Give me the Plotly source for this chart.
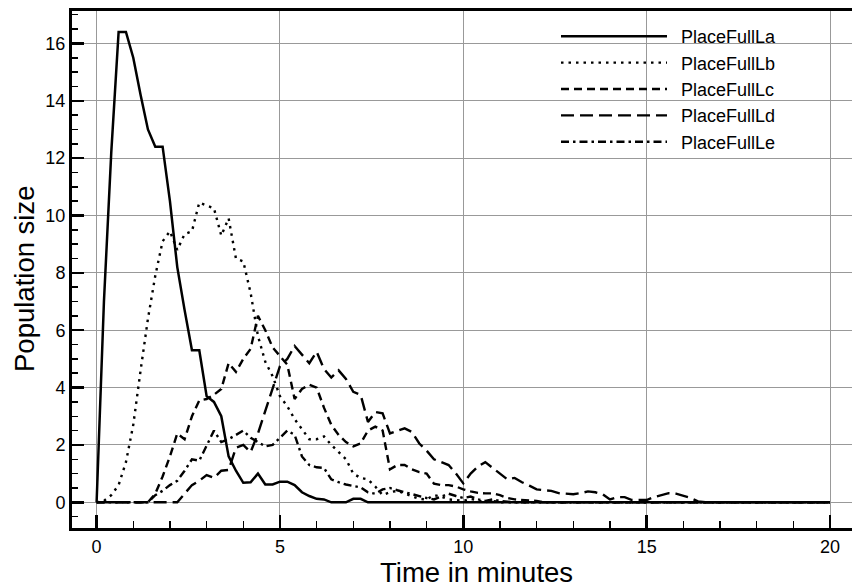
import plotly.graph_objects as go

time = [0.0, 0.2, 0.4, 0.6, 0.8, 1.0, 1.2, 1.4, 1.6, 1.8,
        2.0, 2.2, 2.4, 2.6, 2.8, 3.0, 3.2, 3.4, 3.6, 3.8,
        4.0, 4.2, 4.4, 4.6, 4.8, 5.0, 5.2, 5.4, 5.6, 5.8,
        6.0, 6.2, 6.4, 6.6, 6.8, 7.0, 7.2, 7.4, 7.6, 7.8,
        8.0, 8.2, 8.4, 8.6, 8.8, 9.0, 9.2, 9.4, 9.6, 9.8,
        10.0, 10.2, 10.4, 10.6, 10.8, 11.0, 11.2, 11.4, 11.6, 11.8,
        12.0, 12.2, 12.4, 12.6, 12.8, 13.0, 13.2, 13.4, 13.6, 13.8,
        14.0, 14.2, 14.4, 14.6, 14.8, 15.0, 15.2, 15.4, 15.6, 15.8,
        16.0, 16.2, 16.4, 16.6, 16.8, 17.0, 17.2, 17.4, 17.6, 17.8,
        18.0, 18.2, 18.4, 18.6, 18.8, 19.0, 19.2, 19.4, 19.6, 19.8,
        20.0]

place_full_la = [0, 7.0, 12.2, 16.4, 16.4, 15.5, 14.2, 13.0, 12.4, 12.4,
                 10.5, 8.2, 6.7, 5.3, 5.3, 3.7, 3.5, 3.0, 1.6, 1.1,
                 0.68, 0.7, 1.0, 0.62, 0.62, 0.72, 0.72, 0.6, 0.35, 0.22,
                 0.12, 0.1, 0, 0, 0, 0.12, 0.12, 0, 0, 0,
                 0, 0, 0, 0, 0, 0, 0, 0, 0, 0,
                 0, 0, 0, 0, 0, 0, 0, 0, 0, 0,
                 0, 0, 0, 0, 0, 0, 0, 0, 0, 0,
                 0, 0, 0, 0, 0, 0, 0, 0, 0, 0,
                 0, 0, 0, 0, 0, 0, 0, 0, 0, 0,
                 0, 0, 0, 0, 0, 0, 0, 0, 0, 0,
                 0]

place_full_lb = [0, 0.05, 0.25, 0.6, 1.4, 2.7, 4.6, 6.4, 7.9, 9.1,
                 9.45, 8.8, 9.35, 9.45, 10.45, 10.35, 10.25, 9.3, 9.9, 8.5,
                 8.4, 7.3, 5.8, 4.9, 4.4, 3.7, 3.35, 2.9, 2.55, 2.2,
                 2.2, 2.3, 2.0, 1.75, 1.5, 1.0, 0.85, 0.8, 0.55, 0.25,
                 0.35, 0.4, 0.3, 0.2, 0.12, 0.1, 0.25, 0.2, 0.1, 0.08,
                 0.05, 0.12, 0.05, 0, 0.05, 0, 0, 0, 0, 0,
                 0, 0, 0, 0, 0, 0, 0, 0, 0, 0,
                 0, 0, 0, 0, 0, 0, 0, 0, 0, 0,
                 0, 0, 0, 0, 0, 0, 0, 0, 0, 0,
                 0, 0, 0, 0, 0, 0, 0, 0, 0, 0,
                 0]

place_full_lc = [0, 0, 0, 0, 0, 0, 0, 0, 0.3, 0.9,
                 1.6, 2.4, 2.2, 3.0, 3.55, 3.6, 3.75, 3.95, 4.85, 4.55,
                 5.0, 5.35, 6.5, 6.0, 5.4, 5.1, 4.8, 3.6, 3.95, 4.1,
                 4.0, 3.3, 2.7, 2.35, 2.1, 1.95, 2.05, 2.5, 2.64, 2.5,
                 1.15, 1.3, 1.3, 1.15, 1.05, 1.0, 0.65, 0.6, 0.6, 0.55,
                 0.45, 0.38, 0.33, 0.31, 0.31, 0.25, 0.15, 0.1, 0.08, 0.05,
                 0.05, 0, 0, 0, 0, 0, 0, 0, 0, 0,
                 0, 0, 0, 0, 0, 0, 0, 0, 0, 0,
                 0, 0, 0, 0, 0, 0, 0, 0, 0, 0,
                 0, 0, 0, 0, 0, 0, 0, 0, 0, 0,
                 0]

place_full_ld = [0, 0, 0, 0, 0, 0, 0, 0, 0, 0,
                 0, 0, 0.3, 0.6, 0.75, 0.95, 0.85, 1.1, 1.13, 1.9,
                 2.0, 1.75, 2.4, 3.2, 4.0, 4.75, 5.0, 5.45, 5.15, 4.85,
                 5.25, 4.65, 4.35, 4.6, 4.3, 3.85, 3.75, 2.8, 3.15, 3.1,
                 2.4, 2.5, 2.58, 2.45, 2.05, 1.8, 1.5, 1.4, 1.3, 1.0,
                 0.66, 1.0, 1.25, 1.4, 1.2, 1.0, 0.8, 0.85, 0.7, 0.58,
                 0.45, 0.42, 0.4, 0.32, 0.3, 0.28, 0.32, 0.38, 0.35, 0.28,
                 0.1, 0.18, 0.18, 0.08, 0.08, 0.08, 0.18, 0.25, 0.32, 0.3,
                 0.22, 0.15, 0.03, 0, 0, 0, 0, 0, 0, 0,
                 0, 0, 0, 0, 0, 0, 0, 0, 0, 0,
                 0]

place_full_le = [0, 0, 0, 0, 0, 0, 0, 0, 0.25, 0.4,
                 0.6, 0.75, 1.1, 1.5, 1.45, 2.0, 2.5, 2.1, 2.2, 2.35,
                 2.5, 2.25, 2.1, 1.95, 2.0, 2.25, 2.5, 2.35, 1.6, 1.3,
                 1.22, 1.2, 0.8, 0.7, 0.62, 0.57, 0.52, 0.35, 0.3, 0.45,
                 0.5, 0.42, 0.35, 0.3, 0.22, 0.15, 0.1, 0.2, 0.3, 0.22,
                 0.15, 0.2, 0.1, 0.05, 0.1, 0.05, 0.02, 0, 0, 0,
                 0, 0, 0, 0, 0, 0, 0, 0, 0, 0,
                 0, 0, 0, 0, 0, 0, 0, 0, 0, 0,
                 0, 0, 0, 0, 0, 0, 0, 0, 0, 0,
                 0, 0, 0, 0, 0, 0, 0, 0, 0, 0,
                 0]

series_names = ["PlaceFullLa", "PlaceFullLb", "PlaceFullLc", "PlaceFullLd", "PlaceFullLe"]
series_values = [place_full_la, place_full_lb, place_full_lc, place_full_ld, place_full_le]
dash_styles = ["solid", "2.5px,5px", "8px,5px", "13px,6px", "8px,4px,2.5px,4px"]
line_widths = [2.5, 2.4, 2.4, 2.4, 2.4]

FONT = "Liberation Sans, Arial, Helvetica, sans-serif"

fig = go.Figure()
for name, vals, dash, lw in zip(series_names, series_values, dash_styles, line_widths):
    fig.add_trace(go.Scatter(x=time, y=vals, mode="lines", name="\u2002" + name,
                             line=dict(color="black", width=lw, dash=dash)))

ml, mr, mt, mb = 72, 0, 11, 60
W, H = 852, 588
pw, ph = W - ml - mr, H - mt - mb

fig.update_layout(
    width=W, height=H,
    margin=dict(l=ml, r=mr, t=mt, b=mb, autoexpand=False),
    paper_bgcolor="white", plot_bgcolor="white",
    font=dict(family=FONT, color="black", size=18),
    showlegend=True,
    legend=dict(x=(556 - ml) / pw, y=(H - mb - 18) / ph, xanchor="left", yanchor="top",
                bgcolor="rgba(0,0,0,0)", font=dict(size=18, family=FONT),
                itemwidth=106, tracegroupgap=0),
    xaxis=dict(range=[-0.671, 20.6], tick0=0, dtick=5, showgrid=True, gridcolor="#999999",
               gridwidth=1, zeroline=False, showline=True, linecolor="black", linewidth=3,
               mirror=True, ticks="inside", ticklen=13, tickwidth=2.5, tickcolor="black",
               tickfont=dict(size=18, family=FONT), automargin=False,
               minor=dict(tick0=0, dtick=1, ticks="inside", ticklen=7, tickwidth=1.5,
                          tickcolor="black", showgrid=False)),
    yaxis=dict(range=[-0.896, 17.13], tick0=0, dtick=2, showgrid=True, gridcolor="#999999",
               gridwidth=1, zeroline=False, showline=True, linecolor="black", linewidth=3,
               ticks="inside", ticklen=12, tickwidth=2.5, tickcolor="black",
               tickfont=dict(size=18, family=FONT), automargin=False,
               minor=dict(tick0=0, dtick=0.5, ticks="inside", ticklen=6, tickwidth=1.5,
                          tickcolor="black", showgrid=False)),
    annotations=[
        dict(text="Time in minutes", xref="paper", yref="paper",
             x=(476 - ml) / pw, y=(H - mb - 572) / ph, xanchor="center", yanchor="middle",
             showarrow=False, font=dict(size=27.5, family=FONT)),
        dict(text="Population size", xref="paper", yref="paper", textangle=-90,
             x=(24 - ml) / pw, y=(H - mb - 279) / ph, xanchor="center", yanchor="middle",
             showarrow=False, font=dict(size=27.5, family=FONT)),
    ],
)

fig.write_html("out.html", config={"displayModeBar": False, "staticPlot": True},
               post_script="document.body.style.margin='0px';document.body.style.overflow='hidden';")
